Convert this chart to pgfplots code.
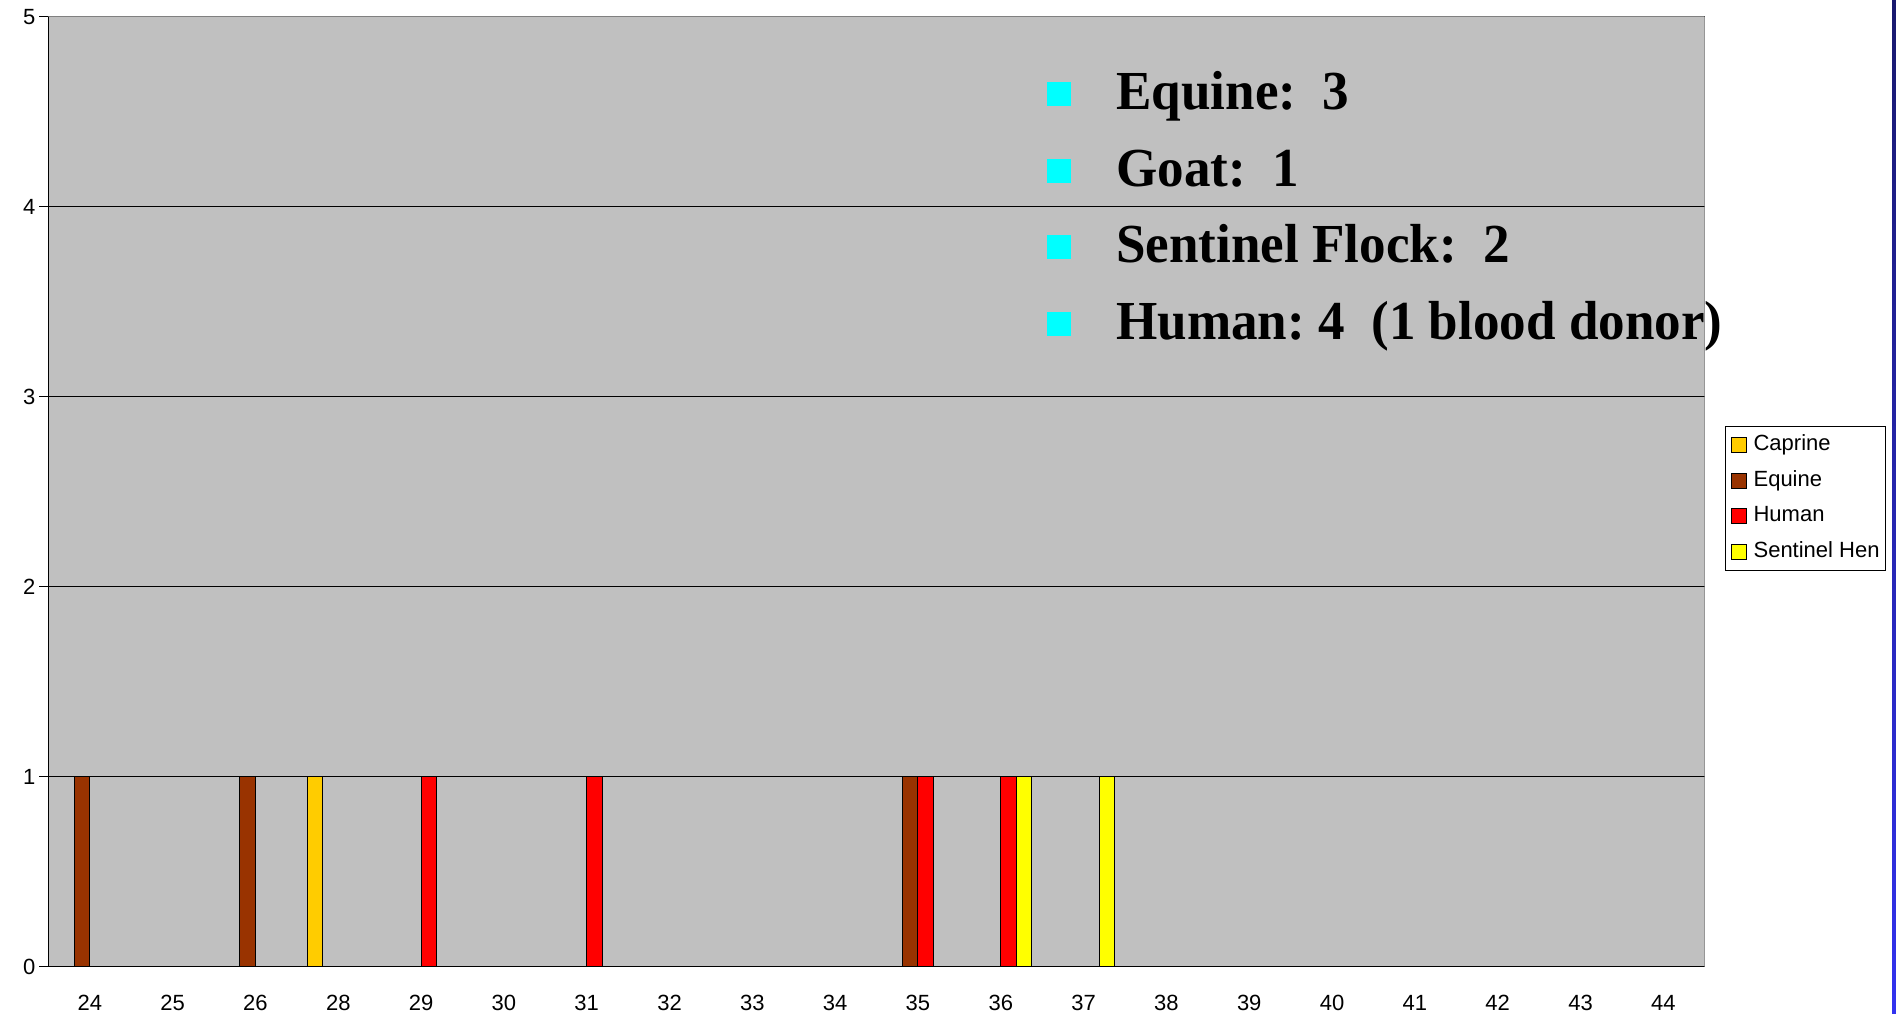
\documentclass[border=0pt]{standalone}
\usepackage{pgfplots}
\pgfplotsset{compat=1.18}
\usepackage{fontspec}
\setmainfont{Liberation Sans}
\newfontfamily\tnr[FakeStretch=0.965]{Liberation Serif}
\definecolor{bgc}{HTML}{C0C0C0}
\definecolor{caprine}{HTML}{FFCC00}
\definecolor{equine}{HTML}{993300}
\definecolor{human}{HTML}{FF0000}
\definecolor{hen}{HTML}{FFFF00}
\definecolor{bulletc}{HTML}{00FFFF}
\pgfplotsset{
  legsq/.style={legend image code/.code={\path[draw=none,fill=none] (0bp,0bp) -- (11bp,0bp);\draw[fill=#1,draw=black,line width=0.5bp] (1bp,-3.75bp) rectangle (8.5bp,3.75bp);}},
  mybar/.style={ybar, bar width=0.187, draw=black, line width=0.5bp, fill=#1, legsq=#1},
}
\begin{document}
\begin{tikzpicture}[x=1bp,y=1bp]
\useasboundingbox (0,0) rectangle (948,507);
\begin{axis}[
  at={(24.2bp,23.65bp)}, anchor=south west,
  scale only axis, width=828.15bp, height=475bp,
  xmin=-0.5, xmax=19.5, ymin=0, ymax=5,
  axis background/.style={fill=bgc},
  axis x line*=bottom, axis y line*=left,
  axis line style={black, line width=0.6bp, -},
  tick align=outside, major tick length=4.5bp,
  tick style={black, line width=0.6bp},
  ytick={0,...,5},
  ymajorgrids, grid style={black, line width=0.5bp},
  xtick={0,...,19},
  xticklabels={24,25,26,28,29,30,31,32,33,34,35,36,37,38,39,40,41,42,43,44},
  xtick style={draw=none},
  extra x ticks={-0.5,0.5,...,19.5},
  extra x tick labels={},
  extra x tick style={tick style={draw=black, line width=0.6bp}},
  ticklabel style={font=\fontsize{11bp}{13bp}\selectfont},
  /pgf/number format/assume math mode=true,
  xticklabel style={yshift=-6bp, text height=8bp, text depth=0bp},
  yticklabel style={xshift=1.5bp},
  legend style={at={(axis description cs:1.0123,0.5692)}, anchor=north west,
    draw=black, fill=white, line width=0.5bp,
    font=\fontsize{11bp}{13bp}\selectfont,
    inner xsep=2bp, inner ysep=2.2bp, row sep=3.2bp,
    nodes={text height=8bp, text depth=2.5bp, inner ysep=2bp, inner xsep=1bp, anchor=west}},
  legend cell align=left,
]
\addplot[mybar=caprine, bar shift=-0.2805] coordinates {(3,1)};
\addplot[mybar=equine, bar shift=-0.0935] coordinates {(0,1) (2,1) (10,1)};
\addplot[mybar=human, bar shift=0.0935] coordinates {(4,1) (6,1) (10,1) (11,1)};
\addplot[mybar=hen, bar shift=0.2805] coordinates {(11,1) (12,1)};
\legend{Caprine,Equine,Human,Sentinel Hen}
\draw[gray, line width=0.6bp] (rel axis cs:0,1) -- (rel axis cs:1,1) -- (rel axis cs:1,0);
\end{axis}
% text box
\foreach \yy in {460,421.5,383.5,345} {
  \fill[bulletc] (523.5,\yy-6) rectangle (535.5,\yy+6);
}
\begin{scope}[every node/.style={anchor=base west, inner sep=0pt, font=\tnr\bfseries\fontsize{27.5bp}{32bp}\selectfont}]
\node at (558,452) {Equine:~~3};
\node at (558,413.5) {Goat:~~1};
\node at (558,375.5) {Sentinel Flock:~~2};
\node at (558,337) {Human:~4~~(1 blood donor)};
\end{scope}
\fill[top color={rgb,255:red,25;green,25;blue,110}, bottom color={rgb,255:red,50;green,50;blue,240}] (946,0) rectangle (948,507);
\end{tikzpicture}
\end{document}
